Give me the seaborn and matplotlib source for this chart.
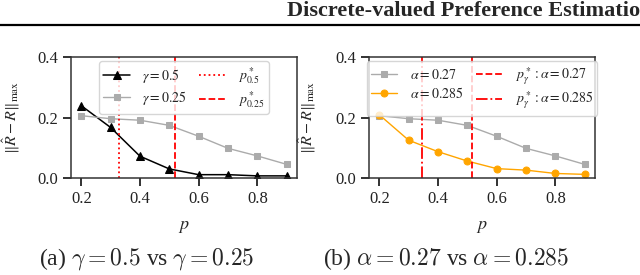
import matplotlib
matplotlib.use("Agg")
import matplotlib.pyplot as plt
import seaborn as sns
import numpy as np

p = [0.2, 0.3, 0.4, 0.5, 0.6, 0.7, 0.8, 0.9]
err_gamma05 = [0.239, 0.167, 0.072, 0.030, 0.011, 0.011, 0.007, 0.007]
err_gamma025 = [0.206, 0.196, 0.191, 0.174, 0.138, 0.098, 0.073, 0.045]
err_alpha027 = [0.206, 0.196, 0.191, 0.174, 0.138, 0.098, 0.073, 0.045]
err_alpha0285 = [0.209, 0.125, 0.087, 0.056, 0.031, 0.026, 0.015, 0.012]
pstar_05 = 0.328
pstar_025 = 0.518
pstar_a027 = 0.517
pstar_a0285 = 0.344

sns.set_style("ticks")
plt.rcParams["font.family"] = ["Liberation Serif", "DejaVu Serif"]
plt.rcParams["mathtext.fontset"] = "stix"

fig = plt.figure(figsize=(6.4, 2.75), dpi=100)
W, H = 640, 275

def axpos(x0, x1, y0, y1):
    return [x0 / W, (H - y1) / H, (x1 - x0) / W, (y1 - y0) / H]

ax1 = fig.add_axes(axpos(71, 297, 57, 178))
ax2 = fig.add_axes(axpos(369, 595, 57, 178))

grey = "#ababab"
sns.lineplot(x=p, y=err_gamma05, ax=ax1, color="black", marker="^", markersize=6,
             markeredgecolor="black", linewidth=1.1, label=r"$\gamma = 0.5$")
sns.lineplot(x=p, y=err_gamma025, ax=ax1, color=grey, marker="s", markersize=4.5,
             markeredgecolor=grey, linewidth=1.0, label=r"$\gamma = 0.25$")
ax1.axvline(pstar_05, color="red", linestyle=":", linewidth=1.3, label=r"$p^*_{0.5}$")
ax1.axvline(pstar_025, color="red", linestyle="--", linewidth=1.3, label=r"$p^*_{0.25}$")

sns.lineplot(x=p, y=err_alpha027, ax=ax2, color=grey, marker="s", markersize=4.5,
             markeredgecolor=grey, linewidth=1.0, label=r"$\alpha = 0.27$")
sns.lineplot(x=p, y=err_alpha0285, ax=ax2, color="orange", marker="o", markersize=5,
             markeredgecolor="orange", linewidth=1.0, label=r"$\alpha = 0.285$")
ax2.axvline(pstar_a027, color="red", linestyle="--", linewidth=1.3, label=r"$p^*_{\gamma}: \alpha = 0.27$")
ax2.axvline(pstar_a0285, color="red", linestyle="-.", linewidth=1.3, label=r"$p^*_{\gamma}: \alpha = 0.285$")

for ax in (ax1, ax2):
    ax.set_ylim(0, 0.4)
    ax.set_xlim(0.165, 0.935)
    ax.set_xticks([0.2, 0.4, 0.6, 0.8])
    ax.set_yticks([0.0, 0.2, 0.4])
    ax.tick_params(labelsize=12, length=6, width=1.3, direction="out", colors="#222222")
    for s in ax.spines.values():
        s.set_visible(True)
        s.set_linewidth(1.1)
        s.set_color("#333333")
    ax.set_xlabel(r"$p$", fontsize=13, labelpad=8)
    ax.set_ylabel(r"$\|\hat{R}-R\|_{\max}$", fontsize=11.5)
    ax.legend(ncol=2, loc="upper center", fontsize=10, frameon=True,
              borderaxespad=0.3, handlelength=1.9, columnspacing=0.9, handletextpad=0.9,
              borderpad=0.3, labelspacing=0.25)

ax1.yaxis.set_label_coords(-0.215, 0.5)
ax2.yaxis.set_label_coords(-0.225, 0.5)

fig.text(147 / W, 1 - 259 / H, r"(a) $\gamma = 0.5$ vs $\gamma = 0.25$", ha="center", va="center",
         fontsize=17, math_fontfamily="cm")
fig.text(446 / W, 1 - 259 / H, r"(b) $\alpha = 0.27$ vs $\alpha = 0.285$", ha="center", va="center",
         fontsize=17, math_fontfamily="cm")

fig.text(287 / W, 1 - 11 / H, "Discrete-valued Preference Estimation", ha="left", va="center",
         fontsize=16, fontweight="bold")
fig.add_artist(plt.Line2D([0, 1], [1 - 25 / H, 1 - 25 / H], color="black", linewidth=1.6,
                          transform=fig.transFigure))

fig.savefig("out.png", dpi=100)
